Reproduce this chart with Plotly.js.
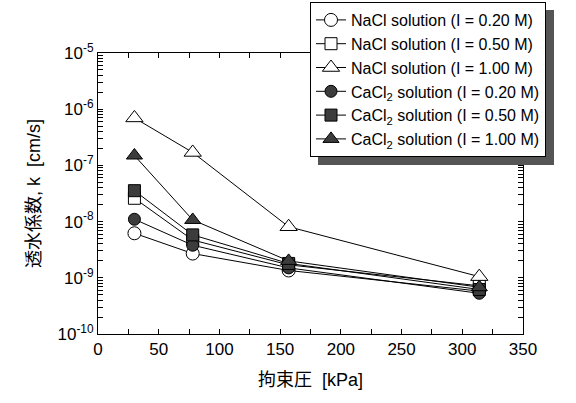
<!DOCTYPE html>
<html>
<head>
<meta charset="utf-8">
<script src="https://cdn.plot.ly/plotly-3.0.1.min.js"></script>
<style>
html,body{margin:0;padding:0;background:#fff;overflow:hidden;}
#chart{width:576px;height:403px;}
#chart .legend rect.bg{filter:drop-shadow(8px 8px 0 #555555);}
</style>
</head>
<body>
<div id="chart"></div>
<script>
// Confining pressure [kPa]
const pressure = [30, 78, 157, 314];
// Hydraulic conductivity k [cm/s]
const nacl020 = [6.2e-9, 2.7e-9, 1.35e-9, 5.8e-10];
const nacl050 = [2.6e-8, 4.7e-9, 1.7e-9, 7.2e-10];
const nacl100 = [7.0e-7, 1.7e-7, 8.1e-9, 1.05e-9];
const cacl020 = [1.1e-8, 3.8e-9, 1.5e-9, 5.3e-10];
const cacl050 = [3.55e-8, 5.8e-9, 1.8e-9, 6.2e-10];
const cacl100 = [1.5e-7, 1.07e-8, 2.0e-9, 6.8e-10];
const seriesNames = [
  'NaCl solution (I = 0.20 M)',
  'NaCl solution (I = 0.50 M)',
  'NaCl solution (I = 1.00 M)',
  'CaCl<sub>2</sub> solution (I = 0.20 M)',
  'CaCl<sub>2</sub> solution (I = 0.50 M)',
  'CaCl<sub>2</sub> solution (I = 1.00 M)'
];
// y tick labels (decades)
const yDecades = [-10, -9, -8, -7, -6, -5];
const yDecadeLabels = ['10<sup>-10</sup>', '10<sup>-9</sup>', '10<sup>-8</sup>', '10<sup>-7</sup>', '10<sup>-6</sup>', '10<sup>-5</sup>'];

const seriesData = [nacl020, nacl050, nacl100, cacl020, cacl050, cacl100];
const symbols = ['circle', 'square', 'triangle-up', 'circle', 'square', 'triangle-up'];
const fills = ['#ffffff', '#ffffff', '#ffffff', '#3c3c3c', '#3c3c3c', '#3c3c3c'];
const sizes = [13, 12, 15, 12, 12, 14];

const FONT = 'Liberation Sans, Arial, Noto Sans CJK JP, sans-serif';

const traces = seriesData.map((ys, i) => ({
  x: pressure, y: ys, name: seriesNames[i], type: 'scatter', mode: 'lines+markers',
  line: {color: '#000', width: 1},
  marker: {symbol: symbols[i], size: sizes[i], color: fills[i], line: {color: '#000', width: 1}}
}));

// tick positions: decades labelled, 2..9 multiples unlabelled
const yTickVals = [], yTickText = [];
yDecades.forEach((e, i) => {
  yTickVals.push(Math.pow(10, e)); yTickText.push(yDecadeLabels[i]);
  if (e < -5) for (let m = 2; m <= 9; m++) { yTickVals.push(m * Math.pow(10, e)); yTickText.push(''); }
});

const PL = 98, PR = 523, PT = 53, PB = 334;
const px = v => (v - PL) / (PR - PL);
const py = v => (PB - v) / (PB - PT);

const layout = {
  width: 576, height: 403,
  margin: {l: PL, r: 576 - PR, t: PT, b: 403 - PB, autoexpand: false},
  paper_bgcolor: '#fff', plot_bgcolor: '#fff',
  font: {family: FONT, size: 17, color: '#000'},
  showlegend: true,
  legend: {
    x: px(310), y: py(2), xanchor: 'left', yanchor: 'top',
    bgcolor: '#ffffff', bordercolor: '#000', borderwidth: 1,
    font: {family: FONT, size: 16, color: '#000'},
    itemwidth: 30, tracegroupgap: 0
  },
  xaxis: {
    range: [0, 350], dtick: 50, tick0: 0,
    ticks: 'inside', ticklen: 5, tickcolor: '#000', tickwidth: 1,
    showline: true, linecolor: '#000', linewidth: 1, mirror: 'ticks',
    showgrid: false, zeroline: false,
    minor: {dtick: 25, ticks: 'inside', ticklen: 5, tickcolor: '#000', showgrid: false},
    tickfont: {family: FONT, size: 17},
    title: {text: '拘束圧  [kPa]', font: {family: FONT, size: 18}, standoff: 14}
  },
  yaxis: {
    type: 'log', range: [-10, -5],
    tickmode: 'array', tickvals: yTickVals, ticktext: yTickText,
    ticks: 'inside', ticklen: 5, tickcolor: '#000', tickwidth: 1,
    showline: true, linecolor: '#000', linewidth: 1, mirror: 'ticks',
    showgrid: false, zeroline: false,
    tickfont: {family: FONT, size: 17},
    title: {text: '透水係数, k  [cm/s]', font: {family: FONT, size: 18}, standoff: 12}
  }
};

Plotly.newPlot('chart', traces, layout, {displayModeBar: false, staticPlot: true});
</script>
</body>
</html>
